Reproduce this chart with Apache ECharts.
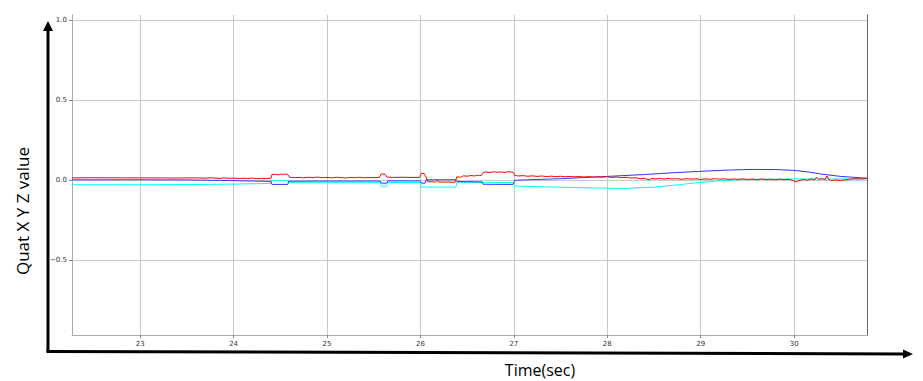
<!DOCTYPE html>
<html>
<head>
<meta charset="utf-8">
<script src="https://cdn.jsdelivr.net/npm/echarts@6/dist/echarts.min.js"></script>
<style>
  html, body { margin: 0; padding: 0; background: #fff; }
  #chart { width: 923px; height: 381px; }
</style>
</head>
<body>
<div id="chart"></div>
<script>
// tick positions
var xTicks = [23, 24, 25, 26, 27, 28, 29, 30];
var yTicks = [-0.5, 0.0, 0.5, 1.0];

// Quat X (red) - [time, value]
var quatX = [
  [22.27,0.013],[22.5,0.014],[22.8,0.013],[23.1,0.013],[23.4,0.012],[23.6,0.013],[23.7,0.011],[23.75,0.014],
  [23.8,0.012],[23.85,0.009],[23.9,0.013],[23.95,0.010],[24.0,0.012],[24.05,0.008],[24.1,0.011],[24.15,0.009],
  [24.2,0.012],[24.25,0.008],[24.3,0.010],[24.35,0.009],[24.4,0.011],[24.41,0.034],[24.45,0.036],[24.48,0.031],
  [24.5,0.037],[24.53,0.035],[24.56,0.037],[24.58,0.033],[24.6,0.017],[24.65,0.014],[24.7,0.016],[24.75,0.013],
  [24.8,0.017],[24.85,0.015],[24.9,0.018],[24.95,0.014],[25.0,0.016],[25.05,0.013],[25.1,0.017],[25.15,0.015],
  [25.2,0.012],[25.25,0.016],[25.3,0.014],[25.35,0.017],[25.4,0.013],[25.45,0.016],[25.5,0.014],[25.56,0.016],
  [25.58,0.037],[25.62,0.036],[25.64,0.018],[25.7,0.016],[25.8,0.017],[25.9,0.016],[25.99,0.016],[26.01,0.042],
  [26.04,0.040],[26.06,0.018],[26.08,-0.012],[26.12,-0.011],[26.16,-0.013],[26.18,-0.002],[26.19,-0.012],
  [26.24,-0.014],[26.3,-0.013],[26.37,-0.015],[26.39,0.020],[26.43,0.017],[26.46,0.026],[26.5,0.023],
  [26.54,0.028],[26.58,0.025],[26.62,0.030],[26.65,0.027],[26.67,0.047],[26.7,0.050],[26.74,0.046],[26.78,0.051],
  [26.82,0.048],[26.86,0.050],[26.9,0.047],[26.94,0.051],[26.99,0.049],[27.01,0.028],[27.05,0.025],[27.1,0.027],
  [27.15,0.023],[27.2,0.026],[27.25,0.022],[27.3,0.025],[27.35,0.021],[27.4,0.024],[27.45,0.020],[27.5,0.023],
  [27.55,0.020],[27.6,0.022],[27.65,0.019],[27.7,0.022],[27.75,0.018],[27.8,0.021],[27.85,0.018],[27.9,0.020],
  [27.95,0.017],[28.0,0.021],[28.05,0.016],[28.1,0.019],[28.15,0.014],[28.2,0.017],[28.25,0.012],[28.3,0.014],
  [28.35,0.008],[28.4,0.011],[28.44,0.001],[28.48,0.009],[28.52,0.006],[28.56,0.010],[28.6,0.005],[28.65,0.009],
  [28.7,0.006],[28.75,0.008],[28.8,0.004],[28.85,0.008],[28.9,0.005],[28.95,0.007],[29.0,0.003],[29.05,0.007],
  [29.1,0.004],[29.15,0.008],[29.2,0.005],[29.25,0.007],[29.3,0.003],[29.35,0.006],[29.4,0.004],[29.45,0.007],
  [29.5,0.003],[29.55,0.006],[29.6,0.002],[29.65,0.006],[29.7,0.003],[29.75,0.005],[29.8,0.001],[29.85,0.005],
  [29.9,0.002],[29.95,0.004],[30.0,-0.008],[30.02,-0.013],[30.05,-0.004],[30.1,0.003],[30.14,-0.002],[30.18,0.006],
  [30.22,0.001],[30.24,0.018],[30.26,0.004],[30.3,0.008],[30.33,0.002],[30.35,0.025],[30.37,0.003],[30.4,-0.003],
  [30.45,0.000],[30.5,-0.003],[30.55,0.001],[30.6,0.005],[30.65,0.008],[30.7,0.006],[30.78,0.009]
];

// Quat Y (blue)
var quatY = [
  [22.27,0.001],[23.0,0.001],[23.5,0.0],[23.8,-0.002],[24.0,-0.004],[24.2,-0.007],[24.4,-0.009],[24.41,-0.028],
  [24.58,-0.028],[24.59,-0.008],[25.0,-0.007],[25.57,-0.007],[25.58,-0.02],[25.64,-0.02],[25.65,-0.006],
  [26.0,-0.006],[26.01,-0.02],[26.05,-0.02],[26.06,0.001],[26.38,0.001],[26.39,-0.010],[26.66,-0.012],
  [26.67,-0.027],[26.99,-0.028],[27.01,-0.002],[27.5,0.008],[28.0,0.022],[28.4,0.034],[28.7,0.045],[29.0,0.054],
  [29.3,0.062],[29.55,0.066],[29.8,0.065],[30.0,0.060],[30.15,0.050],[30.3,0.036],[30.5,0.022],[30.78,0.011]
];

// Quat Z (cyan)
var quatZ = [
  [22.27,-0.030],[23.0,-0.030],[23.5,-0.029],[24.0,-0.026],[24.3,-0.023],[24.4,-0.021],[24.41,-0.003],
  [24.58,-0.003],[24.59,-0.017],[25.57,-0.017],[25.58,-0.040],[25.64,-0.040],[25.65,-0.016],[26.0,-0.016],
  [26.01,-0.045],[26.38,-0.045],[26.39,-0.015],[26.99,-0.016],[27.01,-0.038],[27.5,-0.046],[28.0,-0.052],
  [28.2,-0.053],[28.5,-0.045],[28.7,-0.034],[29.0,-0.015],[29.3,-0.001],[29.6,0.004],[30.0,0.006],[30.4,0.006],
  [30.78,0.007]
];

var tickFont = { fontSize: 7, color: '#333', fontFamily: 'DejaVu Sans' };

var chart = echarts.init(document.getElementById('chart'), null, { renderer: 'svg' });
chart.setOption({
  animation: false,
  grid: { left: 72, right: 56, top: 15, bottom: 46 },
  xAxis: {
    type: 'value',
    min: 22.27,
    max: 30.78,
    axisLine: { show: true, onZero: false, lineStyle: { color: '#aaa', width: 1 } },
    axisTick: { show: true, inside: false, length: 3, customValues: xTicks, lineStyle: { color: '#888' } },
    axisLabel: Object.assign({ customValues: xTicks, margin: 5, formatter: function (v) { return String(v); } }, tickFont),
    splitLine: { show: true, lineStyle: { color: '#c8c8c8', width: 1 } }
  },
  yAxis: [{
    type: 'value',
    min: -0.971,
    max: 1.033,
    axisLine: { show: true, onZero: false, lineStyle: { color: '#aaa', width: 1 } },
    axisTick: { show: true, inside: false, length: 3, customValues: yTicks, lineStyle: { color: '#888' } },
    axisLabel: Object.assign({
      customValues: yTicks, margin: 5,
      formatter: function (v) { return (v < 0 ? '\u2212' : '') + Math.abs(v).toFixed(1); }
    }, tickFont),
    splitLine: { show: true, lineStyle: { color: '#c8c8c8', width: 1 } }
  }, {
    type: 'value',
    position: 'right',
    min: -0.971,
    max: 1.033,
    axisLine: { show: true, onZero: false, lineStyle: { color: '#666', width: 1 } },
    axisTick: { show: false },
    axisLabel: { show: false },
    splitLine: { show: false }
  }],
  series: [
    { name: 'Z', type: 'line', data: quatZ, showSymbol: false, lineStyle: { color: '#00ffff', width: 1 } },
    { name: 'Y', type: 'line', data: quatY, showSymbol: false, lineStyle: { color: '#3333ff', width: 1 } },
    { name: 'X', type: 'line', data: quatX, showSymbol: false, lineStyle: { color: '#ff0000', width: 1 } }
  ],
  graphic: [
    { type: 'line', shape: { x1: 48, y1: 352, x2: 48, y2: 29 }, style: { stroke: '#000', lineWidth: 3 } },
    { type: 'polygon', shape: { points: [[48, 21], [43, 31], [53, 31]] }, style: { fill: '#000' } },
    { type: 'line', shape: { x1: 46.5, y1: 351.5, x2: 905, y2: 354 }, style: { stroke: '#000', lineWidth: 3 } },
    { type: 'polygon', shape: { points: [[913, 354], [903, 349.5], [903, 358.5]] }, style: { fill: '#000' } },
    {
      type: 'text', x: 22, y: 211, rotation: Math.PI / 2,
      style: { text: 'Quat X Y Z value', font: '17px "Open Sans"', fill: '#000', align: 'center', verticalAlign: 'middle' }
    },
    {
      type: 'text', x: 540, y: 370,
      style: { text: 'Time(sec)', font: '16px "Open Sans"', fill: '#000', align: 'center', verticalAlign: 'middle' }
    }
  ]
});
</script>
</body>
</html>
